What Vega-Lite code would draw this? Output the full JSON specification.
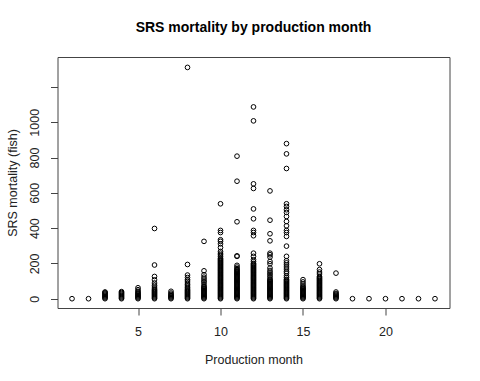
{
  "$schema": "https://vega.github.io/schema/vega-lite/v6.json",
  "autosize": "none",
  "width": 392,
  "height": 251,
  "padding": {"left": 57.5, "top": 57, "right": 30.5, "bottom": 73},
  "background": "white",
  "config": {
    "view": {"stroke": "#444", "strokeWidth": 1},
    "font": "Liberation Sans",
    "axis": {"grid": false, "domain": false, "tickColor": "#444", "tickSize": 7, "labelColor": "#222", "titleColor": "#222", "labelFontSize": 12.5, "titleFontSize": 12.5, "titleFontWeight": "normal", "labelFont": "Liberation Sans", "titleFont": "Liberation Sans"}
  },
  "title": {"text": "SRS mortality by production month", "font": "Liberation Sans", "fontSize": 14, "fontWeight": "bold", "color": "#000", "anchor": "middle", "frame": "group", "baseline": "alphabetic", "offset": 11},
  "data": {"values": [
    {"m":1,"v":0},{"m":2,"v":0},
    {"m":3,"v":0},{"m":3,"v":5},{"m":3,"v":10},{"m":3,"v":15},{"m":3,"v":20},{"m":3,"v":25},{"m":3,"v":30},{"m":3,"v":35},{"m":3,"v":38},
    {"m":4,"v":0},{"m":4,"v":5},{"m":4,"v":10},{"m":4,"v":15},{"m":4,"v":20},{"m":4,"v":25},{"m":4,"v":30},{"m":4,"v":35},{"m":4,"v":40},
    {"m":5,"v":0},{"m":5,"v":5},{"m":5,"v":10},{"m":5,"v":15},{"m":5,"v":20},{"m":5,"v":25},{"m":5,"v":30},{"m":5,"v":36},{"m":5,"v":42},{"m":5,"v":51},{"m":5,"v":62},
    {"m":6,"v":0},{"m":6,"v":5},{"m":6,"v":10},{"m":6,"v":15},{"m":6,"v":20},{"m":6,"v":25},{"m":6,"v":30},{"m":6,"v":35},{"m":6,"v":40},{"m":6,"v":45},{"m":6,"v":50},{"m":6,"v":56},{"m":6,"v":66},{"m":6,"v":76},{"m":6,"v":89},{"m":6,"v":107},{"m":6,"v":126},{"m":6,"v":191},{"m":6,"v":398},
    {"m":7,"v":0},{"m":7,"v":5},{"m":7,"v":10},{"m":7,"v":15},{"m":7,"v":20},{"m":7,"v":25},{"m":7,"v":32},{"m":7,"v":42},
    {"m":8,"v":0},{"m":8,"v":5},{"m":8,"v":10},{"m":8,"v":15},{"m":8,"v":20},{"m":8,"v":25},{"m":8,"v":30},{"m":8,"v":35},{"m":8,"v":40},{"m":8,"v":45},{"m":8,"v":50},{"m":8,"v":56},{"m":8,"v":64},{"m":8,"v":72},{"m":8,"v":80},{"m":8,"v":89},{"m":8,"v":100},{"m":8,"v":108},{"m":8,"v":120},{"m":8,"v":134},{"m":8,"v":194},{"m":8,"v":1311},
    {"m":9,"v":0},{"m":9,"v":5},{"m":9,"v":10},{"m":9,"v":15},{"m":9,"v":20},{"m":9,"v":25},{"m":9,"v":30},{"m":9,"v":35},{"m":9,"v":40},{"m":9,"v":45},{"m":9,"v":50},{"m":9,"v":55},{"m":9,"v":60},{"m":9,"v":65},{"m":9,"v":70},{"m":9,"v":80},{"m":9,"v":92},{"m":9,"v":100},{"m":9,"v":111},{"m":9,"v":122},{"m":9,"v":136},{"m":9,"v":158},{"m":9,"v":325},
    {"m":10,"v":0},{"m":10,"v":5},{"m":10,"v":10},{"m":10,"v":15},{"m":10,"v":20},{"m":10,"v":25},{"m":10,"v":30},{"m":10,"v":35},{"m":10,"v":40},{"m":10,"v":45},{"m":10,"v":50},{"m":10,"v":55},{"m":10,"v":60},{"m":10,"v":65},{"m":10,"v":70},{"m":10,"v":75},{"m":10,"v":80},{"m":10,"v":85},{"m":10,"v":90},{"m":10,"v":95},{"m":10,"v":100},{"m":10,"v":105},{"m":10,"v":110},{"m":10,"v":115},{"m":10,"v":120},{"m":10,"v":125},{"m":10,"v":130},{"m":10,"v":135},{"m":10,"v":140},{"m":10,"v":145},{"m":10,"v":150},{"m":10,"v":155},{"m":10,"v":160},{"m":10,"v":165},{"m":10,"v":170},{"m":10,"v":175},{"m":10,"v":180},{"m":10,"v":185},{"m":10,"v":190},{"m":10,"v":195},{"m":10,"v":200},{"m":10,"v":205},{"m":10,"v":210},{"m":10,"v":215},{"m":10,"v":220},{"m":10,"v":225},{"m":10,"v":230},{"m":10,"v":240},{"m":10,"v":249},{"m":10,"v":258},{"m":10,"v":268},{"m":10,"v":290},{"m":10,"v":311},{"m":10,"v":325},{"m":10,"v":334},{"m":10,"v":375},{"m":10,"v":387},{"m":10,"v":538},
    {"m":11,"v":0},{"m":11,"v":5},{"m":11,"v":10},{"m":11,"v":15},{"m":11,"v":20},{"m":11,"v":25},{"m":11,"v":30},{"m":11,"v":35},{"m":11,"v":40},{"m":11,"v":45},{"m":11,"v":50},{"m":11,"v":55},{"m":11,"v":60},{"m":11,"v":65},{"m":11,"v":70},{"m":11,"v":75},{"m":11,"v":80},{"m":11,"v":85},{"m":11,"v":90},{"m":11,"v":95},{"m":11,"v":100},{"m":11,"v":105},{"m":11,"v":110},{"m":11,"v":115},{"m":11,"v":120},{"m":11,"v":125},{"m":11,"v":130},{"m":11,"v":135},{"m":11,"v":140},{"m":11,"v":145},{"m":11,"v":150},{"m":11,"v":155},{"m":11,"v":160},{"m":11,"v":165},{"m":11,"v":170},{"m":11,"v":179},{"m":11,"v":189},{"m":11,"v":240},{"m":11,"v":243},{"m":11,"v":436},{"m":11,"v":666},{"m":11,"v":808},
    {"m":12,"v":0},{"m":12,"v":5},{"m":12,"v":10},{"m":12,"v":15},{"m":12,"v":20},{"m":12,"v":25},{"m":12,"v":30},{"m":12,"v":35},{"m":12,"v":40},{"m":12,"v":45},{"m":12,"v":50},{"m":12,"v":55},{"m":12,"v":60},{"m":12,"v":65},{"m":12,"v":70},{"m":12,"v":75},{"m":12,"v":80},{"m":12,"v":85},{"m":12,"v":90},{"m":12,"v":95},{"m":12,"v":100},{"m":12,"v":105},{"m":12,"v":110},{"m":12,"v":115},{"m":12,"v":120},{"m":12,"v":125},{"m":12,"v":130},{"m":12,"v":135},{"m":12,"v":140},{"m":12,"v":145},{"m":12,"v":150},{"m":12,"v":155},{"m":12,"v":160},{"m":12,"v":165},{"m":12,"v":170},{"m":12,"v":175},{"m":12,"v":180},{"m":12,"v":185},{"m":12,"v":190},{"m":12,"v":195},{"m":12,"v":200},{"m":12,"v":210},{"m":12,"v":221},{"m":12,"v":240},{"m":12,"v":258},{"m":12,"v":357},{"m":12,"v":375},{"m":12,"v":387},{"m":12,"v":453},{"m":12,"v":509},{"m":12,"v":625},{"m":12,"v":651},{"m":12,"v":1008},{"m":12,"v":1087},
    {"m":13,"v":0},{"m":13,"v":5},{"m":13,"v":10},{"m":13,"v":15},{"m":13,"v":20},{"m":13,"v":25},{"m":13,"v":30},{"m":13,"v":35},{"m":13,"v":40},{"m":13,"v":45},{"m":13,"v":50},{"m":13,"v":55},{"m":13,"v":60},{"m":13,"v":65},{"m":13,"v":70},{"m":13,"v":75},{"m":13,"v":80},{"m":13,"v":85},{"m":13,"v":90},{"m":13,"v":95},{"m":13,"v":100},{"m":13,"v":105},{"m":13,"v":110},{"m":13,"v":120},{"m":13,"v":130},{"m":13,"v":140},{"m":13,"v":150},{"m":13,"v":160},{"m":13,"v":174},{"m":13,"v":198},{"m":13,"v":211},{"m":13,"v":236},{"m":13,"v":249},{"m":13,"v":258},{"m":13,"v":328},{"m":13,"v":368},{"m":13,"v":445},{"m":13,"v":611},
    {"m":14,"v":0},{"m":14,"v":5},{"m":14,"v":10},{"m":14,"v":15},{"m":14,"v":20},{"m":14,"v":25},{"m":14,"v":30},{"m":14,"v":35},{"m":14,"v":40},{"m":14,"v":45},{"m":14,"v":50},{"m":14,"v":55},{"m":14,"v":60},{"m":14,"v":65},{"m":14,"v":70},{"m":14,"v":75},{"m":14,"v":80},{"m":14,"v":85},{"m":14,"v":90},{"m":14,"v":95},{"m":14,"v":100},{"m":14,"v":105},{"m":14,"v":110},{"m":14,"v":120},{"m":14,"v":130},{"m":14,"v":145},{"m":14,"v":155},{"m":14,"v":168},{"m":14,"v":180},{"m":14,"v":192},{"m":14,"v":203},{"m":14,"v":215},{"m":14,"v":240},{"m":14,"v":298},{"m":14,"v":353},{"m":14,"v":375},{"m":14,"v":387},{"m":14,"v":413},{"m":14,"v":438},{"m":14,"v":466},{"m":14,"v":489},{"m":14,"v":504},{"m":14,"v":523},{"m":14,"v":538},{"m":14,"v":738},{"m":14,"v":821},{"m":14,"v":879},
    {"m":15,"v":0},{"m":15,"v":5},{"m":15,"v":10},{"m":15,"v":15},{"m":15,"v":20},{"m":15,"v":25},{"m":15,"v":30},{"m":15,"v":35},{"m":15,"v":40},{"m":15,"v":45},{"m":15,"v":50},{"m":15,"v":55},{"m":15,"v":60},{"m":15,"v":65},{"m":15,"v":72},{"m":15,"v":83},{"m":15,"v":95},{"m":15,"v":108},
    {"m":16,"v":0},{"m":16,"v":5},{"m":16,"v":10},{"m":16,"v":15},{"m":16,"v":20},{"m":16,"v":25},{"m":16,"v":30},{"m":16,"v":35},{"m":16,"v":40},{"m":16,"v":45},{"m":16,"v":50},{"m":16,"v":55},{"m":16,"v":60},{"m":16,"v":65},{"m":16,"v":70},{"m":16,"v":75},{"m":16,"v":80},{"m":16,"v":85},{"m":16,"v":90},{"m":16,"v":95},{"m":16,"v":100},{"m":16,"v":105},{"m":16,"v":110},{"m":16,"v":115},{"m":16,"v":120},{"m":16,"v":126},{"m":16,"v":140},{"m":16,"v":151},{"m":16,"v":165},{"m":16,"v":198},
    {"m":17,"v":0},{"m":17,"v":5},{"m":17,"v":10},{"m":17,"v":15},{"m":17,"v":20},{"m":17,"v":25},{"m":17,"v":30},{"m":17,"v":38},{"m":17,"v":145},
    {"m":18,"v":0},{"m":19,"v":0},{"m":20,"v":0},{"m":21,"v":0},{"m":22,"v":0},{"m":23,"v":0}
  ]},
  "mark": {"type": "point", "shape": "circle", "filled": false, "size": 22, "stroke": "#000", "strokeWidth": 1, "opacity": 1},
  "encoding": {
    "x": {"field": "m", "type": "quantitative", "scale": {"domain": [0.12, 23.88], "nice": false, "zero": false},
      "axis": {"title": "Production month", "values": [5, 10, 15, 20], "labelBaseline": "alphabetic", "labelPadding": 20, "titleBaseline": "alphabetic", "titleY": 55}},
    "y": {"field": "v", "type": "quantitative", "scale": {"domain": [-52.7, 1370], "nice": false, "zero": false},
      "axis": {"title": "SRS mortality (fish)", "values": [0, 200, 400, 600, 800, 1000, 1200], "labelExpr": "datum.value == 1200 ? '' : datum.value", "labelAngle": 270, "labelAlign": "center", "labelBaseline": "alphabetic", "labelPadding": 12, "titleBaseline": "alphabetic", "titleX": -41}}
  }
}
